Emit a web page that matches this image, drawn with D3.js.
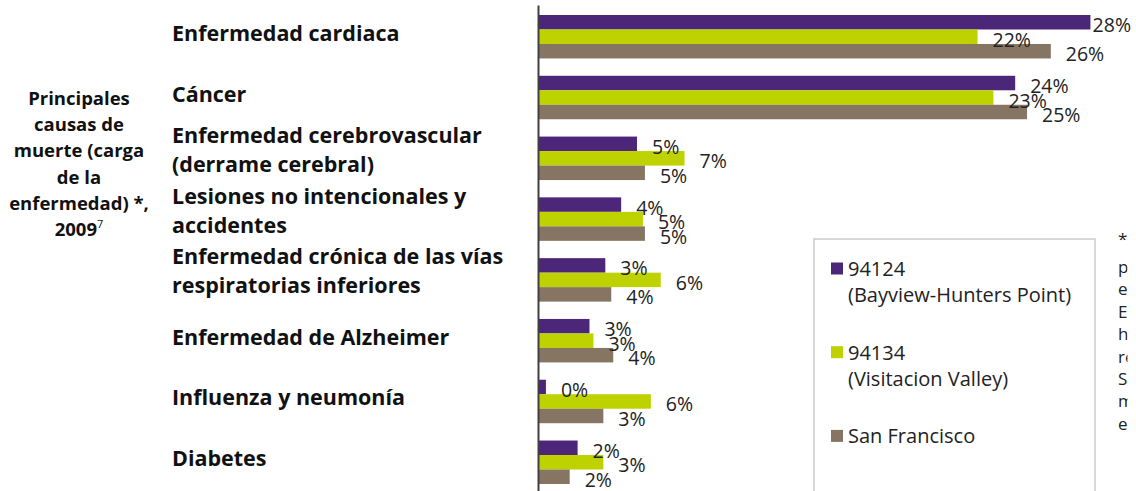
<!DOCTYPE html>
<html>
<head>
<meta charset="utf-8">
<script src="https://cdn.jsdelivr.net/npm/d3@7"></script>
<style>
  html, body { margin: 0; padding: 0; background: #ffffff; }
  svg { display: block; }
</style>
</head>
<body>
<svg id="chart" width="1136" height="491"></svg>
<script>
// ---- data ----
const categories = [
  "Enfermedad cardiaca",
  "Cáncer",
  "Enfermedad cerebrovascular\n(derrame cerebral)",
  "Lesiones no intencionales y\naccidentes",
  "Enfermedad crónica de las vías\nrespiratorias inferiores",
  "Enfermedad de Alzheimer",
  "Influenza y neumonía",
  "Diabetes"
];
const seriesNames = ["94124\n(Bayview-Hunters Point)", "94134\n(Visitacion Valley)", "San Francisco"];
const values94124 = [27.9, 24.1, 5.0, 4.2, 3.4, 2.6, 0.4, 2.0];
const values94134 = [22.2, 23.0, 7.4, 5.3, 6.2, 2.8, 5.7, 3.3];
const valuesSF    = [25.9, 24.7, 5.4, 5.4, 3.7, 3.8, 3.3, 1.6];
const seriesColors = ["#4b2679", "#bed200", "#877564"];
const titleLines = ["Principales", "causas de", "muerte (carga", "de la", "enfermedad) *,", "2009"];
const titleSup = "7";
const footnoteLines = ["*", "porcentaje de años", "estimados de vida", "En esta tabla se", "han agrupado los", "resultados de", "San Francisco", "mediante códigos", "en cada zona."];

// ---- layout ----
const svg = d3.select("#chart");
const W = 1136, H = 491;
const axisX = 538, plotRight = 1132, plotTop = 15, plotBottom = 484;
const seriesValues = [values94124, values94134, valuesSF];

const y = d3.scaleBand().domain(d3.range(categories.length))
  .range([plotTop, plotBottom]).paddingInner(0.285).paddingOuter(0);
const ySub = d3.scaleBand().domain(d3.range(seriesNames.length))
  .range([0, y.bandwidth()]);
const x = d3.scaleLinear().domain([0, 30]).range([axisX, plotRight]);

const font = "'Open Sans', 'Noto Sans', sans-serif";

// bars
const groups = svg.append("g").selectAll("g")
  .data(categories).join("g")
  .attr("transform", (d, i) => `translate(0,${y(i)})`);

groups.each(function(cat, ci) {
  const g = d3.select(this);
  seriesValues.forEach((vals, si) => {
    g.append("rect")
      .attr("x", x(0))
      .attr("y", ySub(si))
      .attr("width", x(vals[ci]) - x(0))
      .attr("height", ySub.bandwidth())
      .attr("fill", seriesColors[si]);
  });
});

// value labels
groups.each(function(cat, ci) {
  const g = d3.select(this);
  seriesValues.forEach((vals, si) => {
    const t = g.append("text")
      .attr("y", ySub(si) + ySub.bandwidth() / 2 + 10)
      .attr("font-family", font)
      .attr("font-size", 19.5)
      .attr("fill", "#222")
      .text(Math.round(vals[ci]) + "%");
    const w = t.node().getComputedTextLength();
    t.attr("x", Math.min(x(vals[ci]) + 15, plotRight - 1 - w));
  });
});

// axis line
const axisScale = d3.scaleLinear().domain([0, 1]).range([5, H]);
svg.append("g")
  .attr("transform", `translate(${axisX},0)`)
  .call(d3.axisLeft(axisScale).ticks(0).tickSizeOuter(0))
  .call(g => g.select(".domain").attr("stroke", "#404040").attr("stroke-width", 2));

// category labels
categories.forEach((cat, i) => {
  const lines = cat.split("\n");
  const n = lines.length;
  const c = y(i) + y.bandwidth() / 2;
  const lineH = 29;
  const first = c + 4 - (n - 1) * (lineH / 2) - (n - 1) * 5;
  const t = svg.append("text")
    .attr("font-family", font)
    .attr("font-weight", "bold")
    .attr("font-size", 21.5)
    .attr("fill", "#111");
  lines.forEach((ln, li) => {
    t.append("tspan").attr("x", 172).attr("y", first + li * lineH).text(ln);
  });
});

// left title
const title = svg.append("text")
  .attr("font-family", font)
  .attr("font-weight", "bold")
  .attr("font-size", 18.5)
  .attr("fill", "#111")
  .attr("text-anchor", "middle");
titleLines.forEach((ln, i) => {
  title.append("tspan").attr("x", 79).attr("y", 105 + i * 26.2).text(ln);
  if (i === titleLines.length - 1) {
    title.append("tspan").attr("font-size", 11).attr("font-weight", "normal")
      .attr("dy", -8).text(titleSup);
  }
});

// legend
const legend = svg.append("g");
legend.append("rect")
  .attr("x", 814).attr("y", 239).attr("width", 281).attr("height", 270)
  .attr("fill", "none").attr("stroke", "#cccccc").attr("stroke-width", 1.5);
seriesNames.forEach((name, i) => {
  const top = 262.5 + i * 83.7;
  legend.append("rect")
    .attr("x", 831).attr("y", top).attr("width", 12).attr("height", 12)
    .attr("fill", seriesColors[i]);
  const t = legend.append("text")
    .attr("font-family", font).attr("font-size", 20).attr("fill", "#222");
  name.split("\n").forEach((ln, li) => {
    t.append("tspan").attr("x", 848).attr("y", top + 13.5 + li * 26).text(ln);
  });
});

// footnote (a text box cut off at the right edge)
svg.append("clipPath").attr("id", "footclip")
  .append("rect").attr("x", 1110).attr("y", 0).attr("width", 17.5).attr("height", H);
const foot = svg.append("text")
  .attr("clip-path", "url(#footclip)")
  .attr("font-family", font).attr("font-size", 17).attr("fill", "#222");
footnoteLines.forEach((ln, i) => {
  foot.append("tspan").attr("x", 1118)
    .attr("y", i === 0 ? 245 : 273 + (i - 1) * 22.4).text(ln);
});
</script>
</body>
</html>
